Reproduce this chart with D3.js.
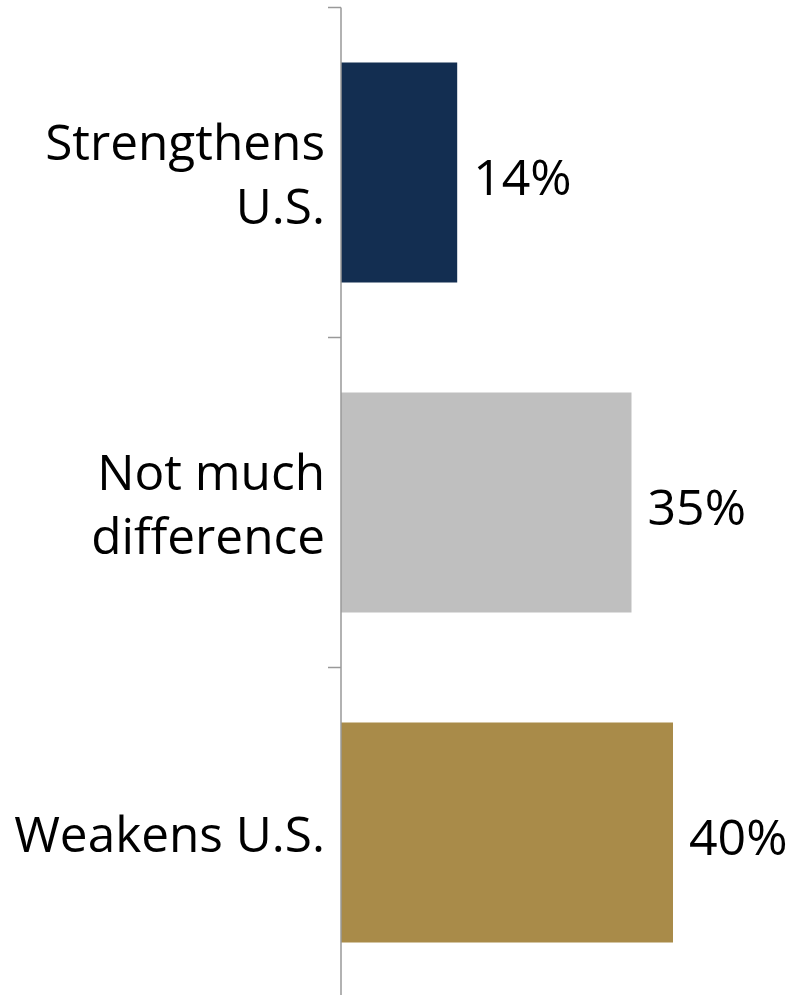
<!DOCTYPE html>
<html>
<head>
<meta charset="utf-8">
<script src="https://cdn.jsdelivr.net/npm/d3@7"></script>
<style>
  html, body { margin: 0; padding: 0; background: #fff; }
  svg { display: block; }
</style>
</head>
<body>
<svg id="chart" width="796" height="995"></svg>
<script>
const categories = ["Strengthens U.S.", "Not much difference", "Weakens U.S."];
const labelLines = [["Strengthens", "U.S."], ["Not much", "difference"], ["Weakens U.S."]];
const values = [14, 35, 40];
const valueLabels = ["14%", "35%", "40%"];
const colors = ["#132e51", "#bfbfbf", "#a98b49"];

const svg = d3.select("#chart");
const axisX = 341;

const y = d3.scaleBand()
  .domain(categories)
  .range([7.5, 997.5])
  .paddingInner(1 / 3)
  .paddingOuter(1 / 6);

const x = d3.scaleLinear().domain([0, 40]).range([axisX, 673]);

// bars
svg.append("g").selectAll("rect")
  .data(categories)
  .join("rect")
  .attr("x", x(0))
  .attr("y", d => y(d))
  .attr("width", (d, i) => x(values[i]) - x(0))
  .attr("height", y.bandwidth())
  .attr("fill", (d, i) => colors[i]);

// axis line and ticks at band boundaries
const axisG = svg.append("g").attr("stroke", "#999").attr("stroke-width", 1.5);
const r = y.range();
axisG.append("line").attr("x1", axisX).attr("x2", axisX).attr("y1", r[0]).attr("y2", r[1]);
const boundaries = categories.map((c, i) => r[0] + i * y.step());
boundaries.push(r[1]);
axisG.selectAll("line.tick")
  .data(boundaries)
  .join("line")
  .attr("class", "tick")
  .attr("x1", axisX - 13).attr("x2", axisX)
  .attr("y1", d => d).attr("y2", d => d);

// category labels
const lineH = 64;
const labG = svg.append("g")
  .attr("font-family", "'Open Sans', 'Noto Sans', sans-serif")
  .attr("font-size", 49.5)
  .attr("fill", "#000")
  .attr("text-anchor", "end");
categories.forEach((c, i) => {
  const cy = y(c) + y.bandwidth() / 2;
  const lines = labelLines[i];
  const t = labG.append("text").attr("x", axisX - 16);
  lines.forEach((ln, j) => {
    t.append("tspan")
      .attr("x", axisX - 16)
      .attr("y", cy + 19 + (j - (lines.length - 1) / 2) * lineH)
      .text(ln);
  });
});

// value labels
svg.append("g")
  .attr("font-family", "'Open Sans', 'Noto Sans', sans-serif")
  .attr("font-size", 50)
  .attr("fill", "#000")
  .selectAll("text")
  .data(categories)
  .join("text")
  .attr("x", (d, i) => x(values[i]) + 16)
  .attr("y", d => y(d) + y.bandwidth() / 2 + 22)
  .text((d, i) => valueLabels[i]);
</script>
</body>
</html>
